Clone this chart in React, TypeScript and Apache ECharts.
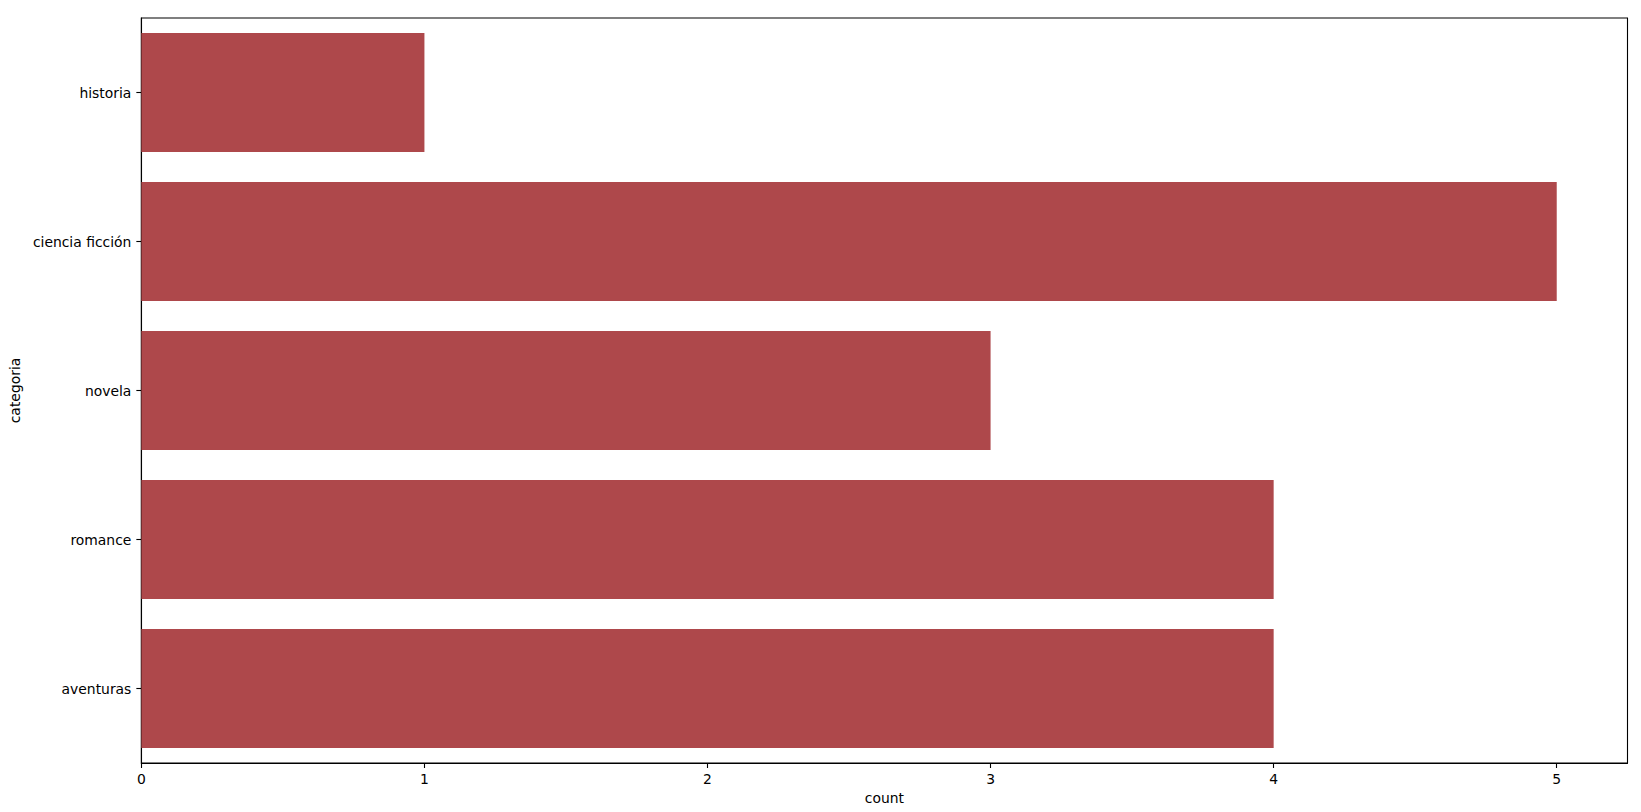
import React, { useEffect, useRef } from "react";
import * as echarts from "echarts";

const categories = ["historia", "ciencia ficción", "novela", "romance", "aventuras"];
const counts = [1, 5, 3, 4, 4];
const xTicks = [0, 1, 2, 3, 4, 5];

const FONT = "DejaVu Sans";
const TEXT = "#000";

export default function App() {
  const ref = useRef<HTMLDivElement>(null);
  useEffect(() => {
    document.body.style.margin = "0";
    const chart = echarts.init(ref.current!, null, { renderer: "svg" });
    chart.setOption({
      animation: false,
      backgroundColor: "#fff",
      grid: {
        left: 138.5,
        right: 13.5,
        top: 18,
        bottom: 49,
        show: true,
        borderColor: "#000",
        borderWidth: 1.1,
        backgroundColor: "transparent",
      },
      xAxis: {
        type: "value",
        min: 0,
        max: 5.25,
        name: "count",
        nameLocation: "middle",
        nameGap: 27,
        nameTextStyle: { fontFamily: FONT, fontSize: 13.9, color: TEXT, verticalAlign: "top" },
        axisLine: { show: true, lineStyle: { color: "#000", width: 1.1 } },
        axisTick: { show: true, length: 5, lineStyle: { color: "#000", width: 1.1 }, customValues: xTicks },
        axisLabel: { fontFamily: FONT, fontSize: 13.9, color: TEXT, margin: 9, customValues: xTicks },
        splitLine: { show: false },
      },
      yAxis: {
        type: "category",
        data: categories,
        inverse: true,
        name: "categoria",
        nameLocation: "middle",
        nameGap: 111,
        nameTextStyle: { fontFamily: FONT, fontSize: 13.9, color: TEXT },
        axisLine: { show: true, lineStyle: { color: "#000", width: 1.1 } },
        axisTick: { show: true, alignWithLabel: true, length: 5, lineStyle: { color: "#000", width: 1.1 } },
        axisLabel: { fontFamily: FONT, fontSize: 13.9, color: TEXT, margin: 10 },
        splitLine: { show: false },
      },
      series: [
        {
          type: "bar",
          data: counts,
          barCategoryGap: "20%",
          itemStyle: { color: "#ae484b" },
        },
      ],
    });
    return () => chart.dispose();
  }, []);
  return <div ref={ref} style={{ width: 1641, height: 812 }} />;
}
